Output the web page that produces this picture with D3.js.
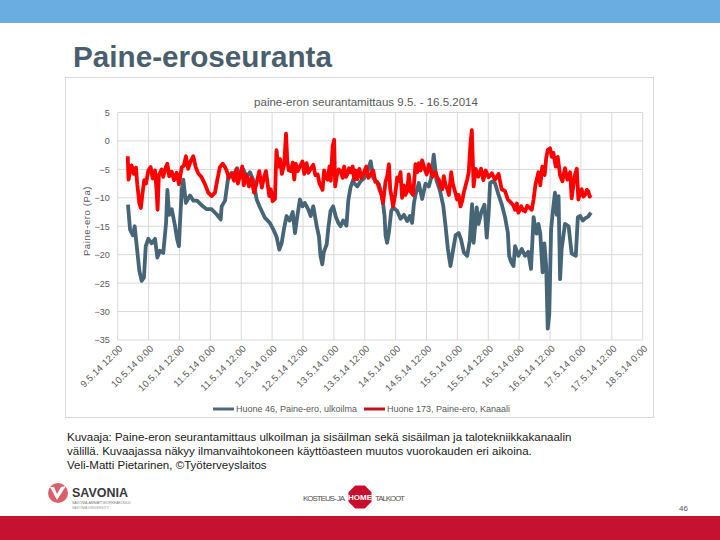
<!DOCTYPE html>
<html>
<head>
<meta charset="utf-8">
<script src="https://cdn.jsdelivr.net/npm/d3@7"></script>
<style>
html,body{margin:0;padding:0;background:#fff;}
svg{display:block;}
text{font-family:"Liberation Sans",Arial,sans-serif;}
</style>
</head>
<body>
<svg id="c" width="720" height="540"></svg>
<script>
// ---- data (hours since 9.5.14 12:00, pressure difference in Pa) ----
const tickLabels = ["9.5.14 12:00","10.5.14 0:00","10.5.14 12:00","11.5.14 0:00","11.5.14 12:00","12.5.14 0:00","12.5.14 12:00","13.5.14 0:00","13.5.14 12:00","14.5.14 0:00","14.5.14 12:00","15.5.14 0:00","15.5.14 12:00","16.5.14 0:00","16.5.14 12:00","17.5.14 0:00","17.5.14 12:00","18.5.14 0:00"];
const yTicks = [5,0,-5,-10,-15,-20,-25,-30,-35];
const seriesNames = ["Huone 46, Paine-ero, ulkoilma","Huone 173, Paine-ero, Kanaali"];

const blueHours = [4.0,4.8,5.9,6.6,7.4,8.4,9.3,10.2,10.9,11.9,13.2,14.5,15.4,16.4,17.7,18.8,19.3,20.0,21.0,22.3,23.1,23.8,24.2,24.9,25.5,26.5,28.1,29.4,30.8,32.6,34.6,36.5,38.4,40.0,40.4,41.7,43.0,44.3,45.2,46.4,47.5,48.8,50.1,51.4,52.7,54.0,55.3,57.2,59.1,60.4,61.7,62.8,63.7,64.6,65.6,66.8,68.0,68.9,69.7,70.8,71.8,72.7,74.0,75.0,76.0,77.3,78.2,78.8,79.5,80.1,81.2,81.8,82.7,83.7,84.8,85.7,86.6,87.6,88.9,89.6,90.5,91.5,91.8,93.1,94.5,95.7,97.0,98.3,99.3,100.3,101.5,102.8,103.7,104.1,104.7,105.4,106.3,107.0,108.6,109.9,111.2,112.5,113.5,114.4,115.1,115.7,117.0,118.3,119.6,120.9,121.8,122.8,123.9,125.2,126.5,127.4,128.3,129.3,130.2,131.3,132.5,133.4,134.5,135.8,136.8,137.7,138.3,139.5,140.2,141.3,142.5,143.4,144.1,144.7,145.6,146.6,148.0,149.2,150.5,151.6,152.1,152.9,153.8,154.4,155.7,157.0,158.3,159.5,160.6,161.6,162.2,162.8,163.5,164.2,165.1,165.8,166.5,167.1,167.7,168.4,169.1,169.9,170.6,171.3,171.9,172.5,173.8,175.2,176.4,177.2,178.0,178.8,179.7,180.7,181.6,182.8,183.9];
const blueVals = [-11.2,-15.6,-16.6,-15,-18.5,-22.8,-24.6,-24,-18.5,-17.2,-18,-17.2,-20.5,-19.3,-19.7,-14.4,-8.6,-13,-12,-15,-17.3,-18.5,-14.4,-8.6,-6.8,-10.9,-9.6,-10.5,-10.5,-11.3,-12,-12,-12.9,-13.8,-11.5,-10.5,-6.2,-5.6,-5.8,-4.8,-6.5,-5,-6.3,-5.5,-6.9,-10.3,-11.7,-13.5,-14.4,-15.5,-16.8,-19.1,-18,-15.5,-13.2,-14,-12.5,-16.2,-13.5,-10.3,-11.5,-10.9,-12,-13.2,-11.5,-14.9,-16.8,-20.2,-21.7,-19.5,-18.2,-15.5,-12.3,-11.5,-13.4,-14.4,-15,-14,-14.9,-10.5,-8.1,-6.8,-7.4,-8,-7,-6.6,-5.5,-3.6,-6.5,-7,-7.6,-9.8,-13.2,-16.7,-17.9,-16,-12.3,-11.7,-12.3,-13.7,-13,-14.1,-13.2,-14.4,-11,-9.5,-7.4,-10.2,-7.5,-8,-6.5,-2.4,-7,-8.7,-11.4,-15,-19,-22,-19.5,-16.6,-16.2,-17.3,-19.6,-20.2,-17.5,-11.1,-17.9,-11.7,-14.6,-12.5,-11.2,-17,-13,-7.4,-7.1,-7.4,-9.5,-11.1,-13.4,-16.1,-20.2,-21.3,-22,-18.5,-20.2,-19,-20.2,-19.5,-22.5,-13.4,-15,-16.3,-14.6,-16.3,-23.1,-18,-22,-33,-30.5,-15.6,-12.3,-9.1,-13,-9.7,-24.3,-19,-14.6,-15,-19.8,-20,-20.2,-13.4,-13.2,-14,-13.6,-13.3,-12.6];

const redHours = [3.9,4.2,4.8,5.4,6.3,7.1,7.6,8.4,9.0,9.7,10.3,11.0,11.9,12.8,13.6,14.5,15.1,15.5,16.0,17.1,17.7,18.8,19.3,20.0,21.0,21.9,22.9,23.8,24.9,25.7,26.5,27.4,28.3,29.4,30.3,31.3,32.6,33.9,35.2,36.5,37.8,38.7,39.7,40.8,41.7,42.3,43.2,44.3,45.2,46.1,46.7,47.5,48.4,49.0,50.1,51.0,51.9,53.0,53.9,55.0,56.0,56.8,57.6,58.4,58.9,59.5,60.2,61.1,61.7,62.4,63.1,63.8,64.7,65.4,65.9,66.5,67.3,68.0,68.6,69.2,70.0,70.8,71.8,72.5,73.4,74.1,75.1,76.0,76.8,77.7,78.4,79.0,79.6,80.2,80.9,81.6,82.3,82.8,83.5,84.1,84.5,85.2,85.9,86.7,87.4,88.0,88.7,89.3,89.9,90.6,91.3,91.9,92.5,93.1,93.9,94.7,95.7,96.6,97.4,98.3,99.3,100.1,100.8,101.7,102.5,103.1,104.1,104.7,105.4,105.9,106.5,107.0,107.8,108.6,109.2,109.9,110.5,111.2,111.8,112.5,113.1,113.9,114.8,115.7,116.4,117.0,117.7,118.3,119.1,120.1,120.9,121.7,122.4,123.5,124.2,124.8,125.4,126.1,126.7,127.4,128.1,128.7,129.6,130.2,131.0,131.9,132.5,133.2,133.9,134.5,135.1,135.8,136.4,137.1,137.6,138.3,139.1,140.1,141.2,142.1,143.0,144.1,145.4,146.6,148.0,149.2,150.5,151.6,152.9,153.7,154.4,155.1,155.7,156.8,157.6,158.3,159.1,160.1,160.9,161.6,162.4,163.5,164.2,165.0,165.9,166.5,167.1,168.0,168.7,169.3,170.2,171.0,171.9,172.8,173.8,174.7,175.8,176.4,177.0,177.5,178.4,179.0,179.7,180.3,180.9,181.6,182.3,182.9,183.4,183.9];
const redVals = [-2.7,-6.8,-5.5,-4.3,-5.8,-4.7,-7.6,-10.9,-11.8,-9,-6.9,-7.5,-5.2,-4.6,-6.6,-5.2,-8.6,-12.1,-6,-5,-6.3,-4.5,-4,-6.2,-5.4,-6.9,-5.6,-7.6,-4.6,-4.4,-2.7,-4.9,-3.6,-2.7,-4.6,-5.7,-6.4,-7.6,-9.1,-9.7,-9.1,-6.9,-4.6,-4,-4.6,-5.2,-6.5,-5.8,-7,-5,-7.5,-6.2,-4.5,-7.8,-6,-8,-6.5,-9.1,-7.5,-5.3,-8.2,-6.5,-5.3,-8,-9.7,-8.5,-10.6,-10.2,-1.6,-4.5,-3.2,-5.8,-4.1,1.3,-3.6,-5.2,-5.3,-3.8,-6.8,-4,-5.3,-4.5,-3.6,-5.8,-3.9,-5.6,-4.8,-4.2,-6,-5.9,-7.5,-8,-8.6,-5.2,-6.5,-6.8,-4.5,-7,-1,0.2,-8,-6,-5,-5.3,-6.5,-4.5,-6.3,-5.8,-4.8,-5.5,-4.5,-6.8,-5.2,-6.7,-4.9,-6.5,-5.5,-4.5,-6.5,-5.9,-5.2,-7.2,-7.2,-8.5,-9.5,-10.9,-7.1,-6.3,-4.1,-8.5,-10,-11.5,-9.5,-6.4,-7,-5.5,-10,-7.8,-9.5,-8.8,-5.9,-9,-9.5,-4.1,-5.5,-3.9,-5.2,-3.4,-4.7,-5.9,-4.1,-5.3,-6.3,-5.5,-6.5,-6.8,-8,-8.5,-6.2,-7.8,-8.5,-9.5,-5.5,-7.5,-8.8,-10.3,-9.5,-11.5,-10.5,-9,-8,-6.8,-5.5,-0.4,1.9,-8,-4.9,-6.3,-4.9,-6.9,-5.2,-6.4,-5.7,-6.8,-5.8,-8.5,-8.8,-10.3,-10.9,-11.3,-12.1,-11,-12.6,-11.5,-12.2,-12.4,-11.4,-11.8,-12.1,-10.3,-7.5,-5.5,-7.8,-4.5,-6,-3,-1.6,-1.3,-2.8,-2.1,-4.5,-2.8,-6.1,-7.1,-4.8,-6.8,-5.5,-10.1,-8,-6.2,-4.9,-10.3,-9,-8.5,-9.8,-9.5,-8.6,-8.9,-9.8,-9.5];

const captionLines = [
 "Kuvaaja: Paine-eron seurantamittaus ulkoilman ja sisäilman sekä sisäilman ja talotekniikkakanaalin",
 "välillä. Kuvaajassa näkyy ilmanvaihtokoneen käyttöasteen muutos vuorokauden eri aikoina.",
 "Veli-Matti Pietarinen, ©Työterveyslaitos"
];

const svg = d3.select("#c");

// header band and title
svg.append("rect").attr("x",0).attr("y",0).attr("width",720).attr("height",23).attr("fill","#6aade0");
svg.append("text").attr("x",73).attr("y",67).attr("font-size",30).attr("font-weight","bold")
  .attr("fill","#4a5f6e").attr("textLength",259).attr("lengthAdjust","spacingAndGlyphs").text("Paine-eroseuranta");

// chart frame
svg.append("rect").attr("x",65.5).attr("y",77.5).attr("width",588).attr("height",340)
  .attr("fill","#fff").attr("stroke","#d9d9d9").attr("stroke-width",1);

svg.append("text").attr("x",366).attr("y",105.5).attr("text-anchor","middle").attr("font-size",11.5)
  .attr("fill","#595959").text("paine-eron seurantamittaus 9.5. - 16.5.2014");

const x = d3.scaleLinear().domain([0,204]).range([117.7,642.7]);
const y = d3.scaleLinear().domain([-35,5]).range([340,112.5]);

// gridlines
const g = svg.append("g");
g.selectAll("line.h").data(yTicks).join("line").attr("class","h")
  .attr("x1",x(0)).attr("x2",x(204)).attr("y1",d=>y(d)).attr("y2",d=>y(d))
  .attr("stroke","#d9d9d9").attr("stroke-width",1);
const xt = d3.range(0,205,12);
g.selectAll("line.v").data(xt).join("line").attr("class","v")
  .attr("x1",d=>x(d)).attr("x2",d=>x(d)).attr("y1",y(5)).attr("y2",y(-35))
  .attr("stroke","#d9d9d9").attr("stroke-width",1);

// y axis labels
const yAxis = d3.axisLeft(y).tickValues(yTicks).tickSize(0).tickPadding(8);
const ya = svg.append("g").attr("transform",`translate(${x(0)},0)`).call(yAxis);
ya.select(".domain").remove();
ya.selectAll("text").attr("font-size",9).attr("fill","#595959").attr("font-family","Liberation Sans, Arial, sans-serif");

// x axis labels
const xAxis = d3.axisBottom(x).tickValues(xt).tickSize(0).tickFormat((d,i)=>tickLabels[i]);
const xa = svg.append("g").attr("transform",`translate(0,${y(-35)})`).call(xAxis);
xa.select(".domain").remove();
xa.selectAll("text").attr("font-size",9.5).attr("letter-spacing",0.2).attr("fill","#595959").attr("font-family","Liberation Sans, Arial, sans-serif")
  .attr("text-anchor","end").attr("dy",0).attr("y",0)
  .attr("transform","translate(5,9) rotate(-45)");

// y title
svg.append("text").attr("transform","translate(90,221) rotate(-90)").attr("text-anchor","middle")
  .attr("font-size",9.5).attr("letter-spacing",0.6).attr("fill","#595959").text("Paine-ero (Pa)");

// lines
const line = d3.line().x(d=>x(d[0])).y(d=>y(d[1]));
const blue = blueHours.map((h,i)=>[h,blueVals[i]]);
const red = redHours.map((h,i)=>[h,redVals[i]]);
svg.append("path").datum(blue).attr("d",line).attr("fill","none").attr("stroke","#466577")
  .attr("stroke-width",3.8).attr("stroke-linejoin","round");
svg.append("path").datum(red).attr("d",line).attr("fill","none").attr("stroke","#ff0000")
  .attr("stroke-width",3.8).attr("stroke-linejoin","round");

// legend
const lg = svg.append("g");
const legX = [213,364];
const legCol = ["#4f6b7b","#c0141c"];
seriesNames.forEach((n,i)=>{
  lg.append("line").attr("x1",legX[i]).attr("x2",legX[i]+21).attr("y1",409).attr("y2",409)
    .attr("stroke",legCol[i]).attr("stroke-width",3);
  lg.append("text").attr("x",legX[i]+23).attr("y",412).attr("font-size",9)
    .attr("fill","#595959").text(n);
});

// caption
captionLines.forEach((t,i)=>{
  svg.append("text").attr("x",67).attr("y",441+i*14).attr("font-size",11.5).attr("fill","#1a1a1a").text(t);
});

// footer logos
const f = svg.append("g");
f.append("circle").attr("cx",58).attr("cy",493).attr("r",10).attr("fill","#d9606a");
f.append("path").attr("d","M50,487 L57,500 L66,486 L61,487 L57,494 L54,487 Z").attr("fill","#fff");
f.append("text").attr("x",72).attr("y",497).attr("font-size",12.5).attr("font-weight","bold").attr("fill","#3a3a3a").text("SAVONIA");
f.append("text").attr("x",72).attr("y",504).attr("font-size",3.5).attr("fill","#777").text("SAVONIA-AMMATTIKORKEAKOULU");
f.append("text").attr("x",72).attr("y",509).attr("font-size",3.5).attr("fill","#999").text("SAVONIA UNIVERSITY");

f.append("text").attr("x",303).attr("y",501).attr("font-size",8).attr("fill","#555").attr("textLength",42).text("KOSTEUS- JA");
const oc = d3.range(8).map(k=>{const a=Math.PI/8+k*Math.PI/4;return [360+12.5*Math.cos(a),497+12.5*Math.sin(a)];});
f.append("polygon").attr("points",oc.map(p=>p.join(",")).join(" ")).attr("fill","#c8102e");
f.append("text").attr("x",360).attr("y",500).attr("text-anchor","middle").attr("font-size",8).attr("font-weight","bold").attr("fill","#fff").text("HOME");
f.append("text").attr("x",375).attr("y",501).attr("font-size",8).attr("fill","#555").attr("textLength",30).text("TALKOOT");

svg.append("text").attr("x",679).attr("y",511).attr("font-size",8).attr("fill","#555").text("46");
svg.append("rect").attr("x",0).attr("y",516).attr("width",720).attr("height",24).attr("fill","#c41230");
</script>
</body>
</html>
